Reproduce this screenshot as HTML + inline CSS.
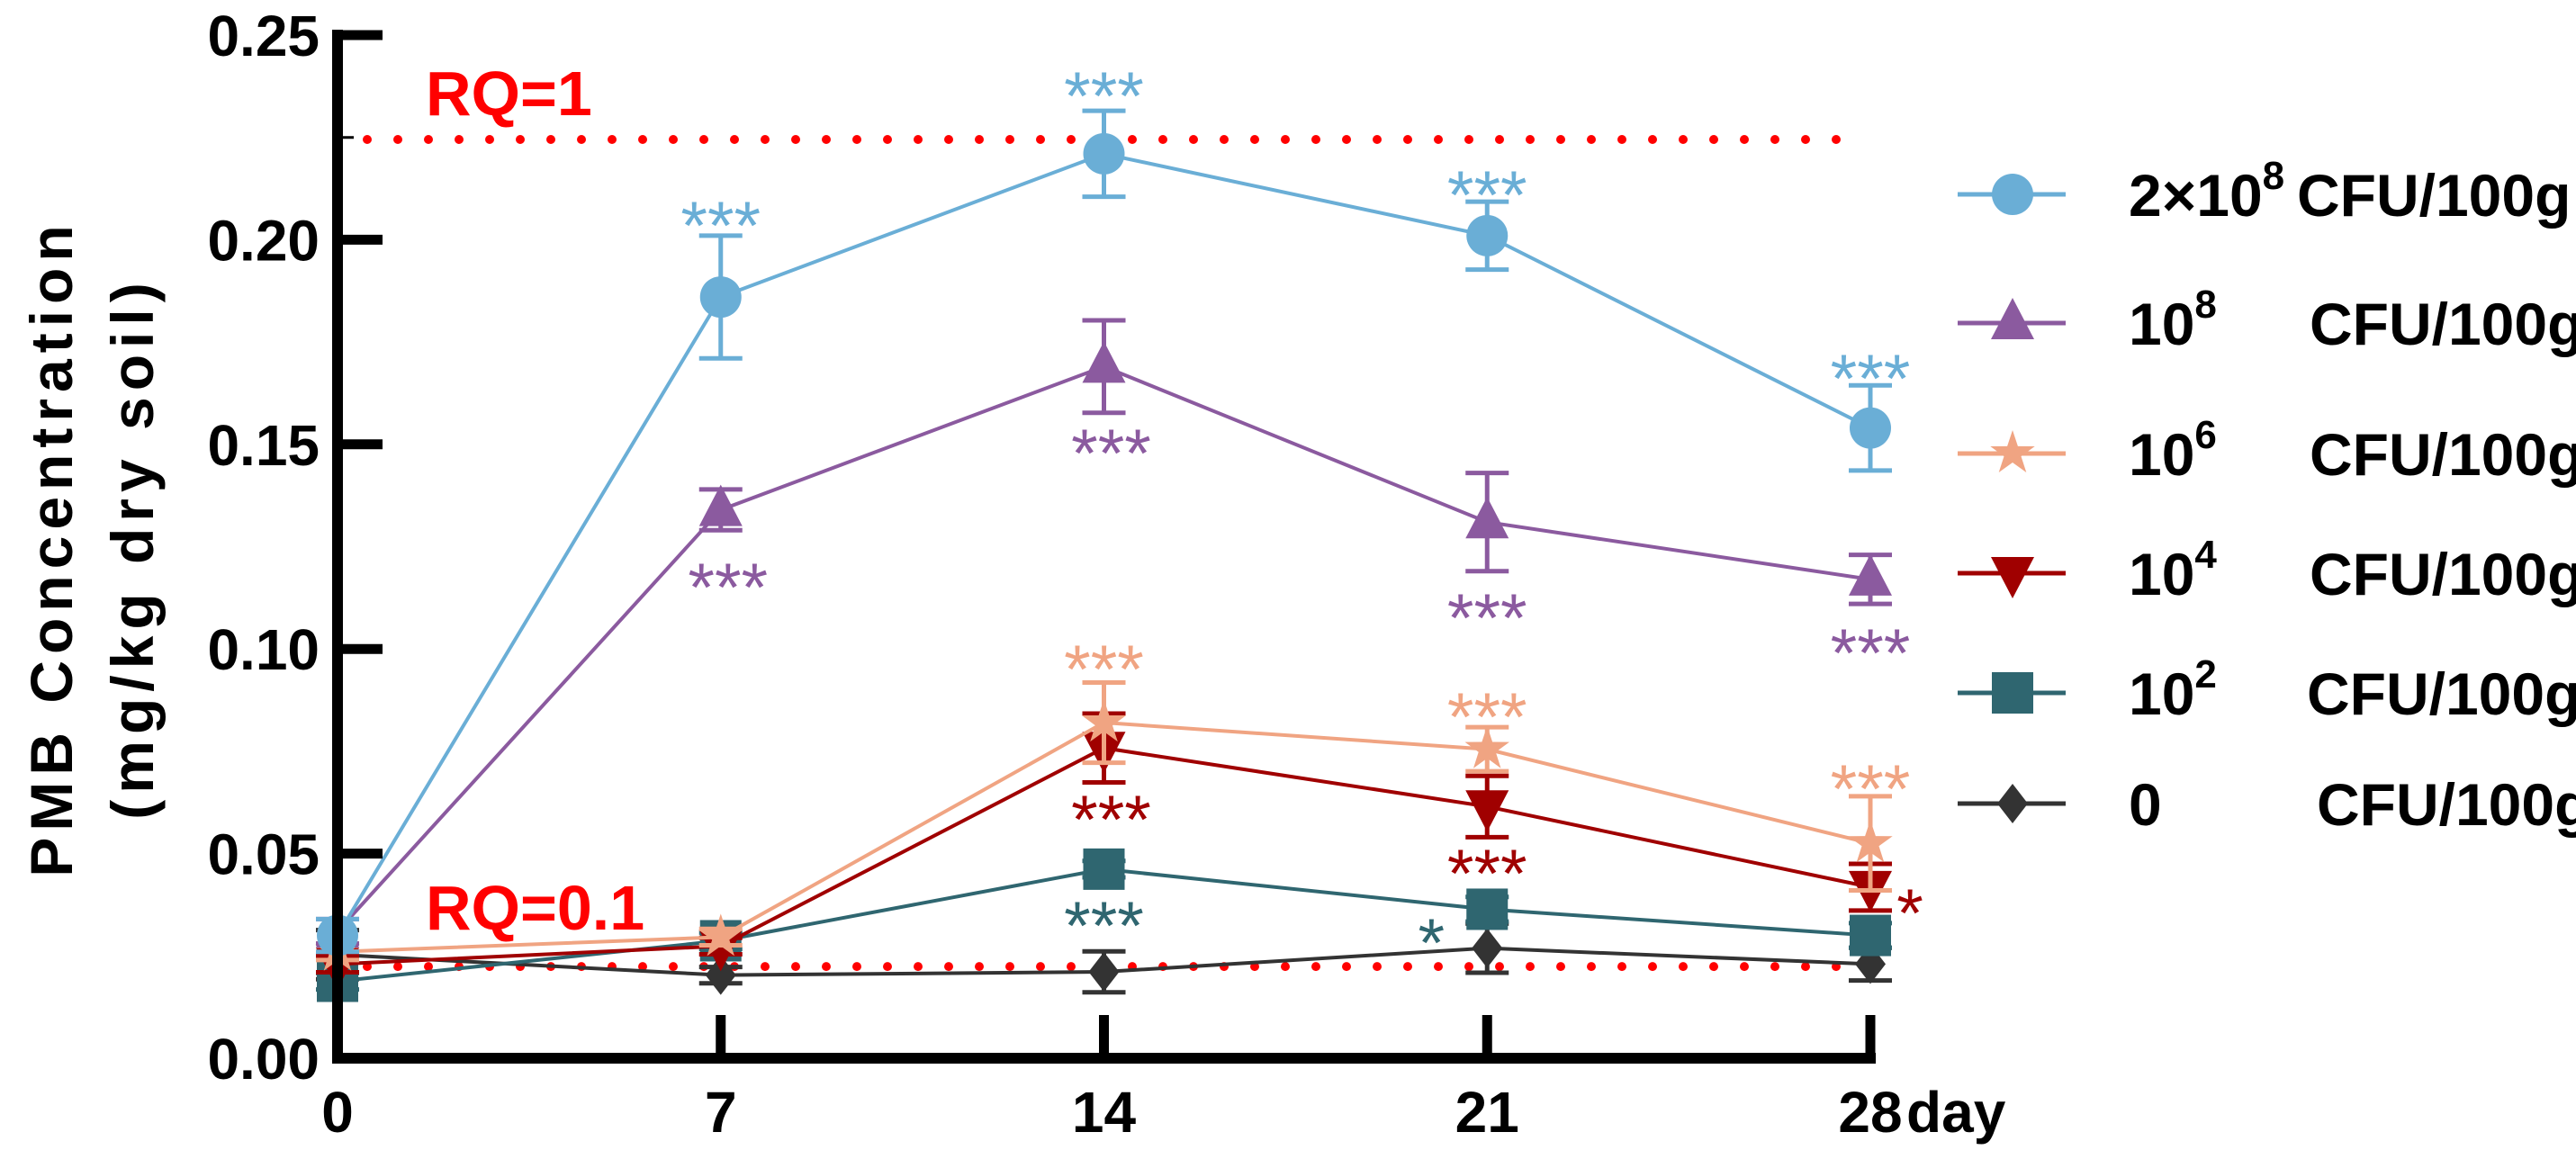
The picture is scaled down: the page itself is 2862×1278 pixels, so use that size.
<!DOCTYPE html>
<html><head><meta charset="utf-8"><style>
html,body{margin:0;padding:0;background:#fff;}
svg{display:block;font-family:"Liberation Sans",Arial,sans-serif;}
</style></head><body>
<svg id="chart" width="2862" height="1278" viewBox="0 0 2862 1278" xmlns="http://www.w3.org/2000/svg"></svg>
<script>
const days = [0, 7, 14, 21, 28];
const xTickLabels = ["0", "7", "14", "21", "28"];
const yTicks = [0, 0.05, 0.10, 0.15, 0.20, 0.25];
const yTickLabels = ["0.00", "0.05", "0.10", "0.15", "0.20", "0.25"];
const seriesNames = ["2e8", "1e8", "1e6", "1e4", "1e2", "0"];
const meanBlue = [0.030, 0.186, 0.221, 0.201, 0.154];
const errBlue = [0.004, 0.015, 0.0105, 0.0083, 0.0104];
const meanPurple = [0.031, 0.134, 0.169, 0.131, 0.117];
const errPurple = [0.003, 0.005, 0.0113, 0.012, 0.006];
const meanPeach = [0.026, 0.0296, 0.082, 0.0755, 0.0525];
const errPeach = [0.002, 0.002, 0.0098, 0.0054, 0.0115];
const meanRed = [0.023, 0.0274, 0.0758, 0.0615, 0.0418];
const errRed = [0.002, 0.002, 0.0084, 0.0075, 0.0057];
const meanTeal = [0.0188, 0.0287, 0.0462, 0.0364, 0.030];
const errTeal = [0.002, 0.002, 0.002, 0.003, 0.003];
const meanBlack = [0.0253, 0.0203, 0.0211, 0.0269, 0.023];
const errBlack = [0.006, 0.002, 0.005, 0.006, 0.004];
const rqValues = [0.2245, 0.0224];
const rqLabels = ["RQ=1", "RQ=0.1"];
// significance annotations: series index, day, label, value at label centre
const sigSeries = [0,0,0,0, 1,1,1,1, 2,2,2, 3,3,3, 4,4];
const sigDay = [7,14,21,28, 7,14,21,28, 14,21,28, 14,21,28, 14,21];
const sigText = ["***","***","***","***", "***","***","***","***", "***","***","***", "***","***","*", "***","*"];
const sigValue = [0.2076,0.2392,0.2150,0.1702, 0.1192,0.1519,0.1117,0.1031, 0.0992,0.0875,0.0699, 0.0624,0.0493,0.0396, 0.0365,0.0323];
const sigDx = [0,0,0,0, 8,8,0,0, 0,0,0, 8,0,44, 0,-62];

const colors = ["#6aaed6","#8b5a9f","#f0a482","#a00000","#2f6670","#333333"];
const means = [meanBlue, meanPurple, meanPeach, meanRed, meanTeal, meanBlack];
const errs = [errBlue, errPurple, errPeach, errRed, errTeal, errBlack];
const shapes = ["circle","tri","star","tridown","square","diamond"];

const X0 = 375, XPER = (2078-375)/28, Y0 = 1176, YPER = (1176-39)/0.25;
const xs = d => X0 + d*XPER;
const ys = v => Y0 - v*YPER;
const NS = "http://www.w3.org/2000/svg";
const svg = document.getElementById('chart');
function mk(tag, attrs, parent){ const e=document.createElementNS(NS,tag); for(const k in attrs) e.setAttribute(k,attrs[k]); (parent||svg).appendChild(e); return e; }

function marker(shape, cx, cy, col, g, s){
  s = s||1;
  if(shape==="circle") return mk('circle',{cx,cy,r:23*s,fill:col},g);
  if(shape==="square") return mk('rect',{x:cx-23*s,y:cy-23*s,width:46*s,height:46*s,fill:col},g);
  if(shape==="tri") return mk('polygon',{points:`${cx},${cy-28*s} ${cx-24*s},${cy+18*s} ${cx+24*s},${cy+18*s}`,fill:col},g);
  if(shape==="tridown") return mk('polygon',{points:`${cx},${cy+28*s} ${cx-24*s},${cy-18*s} ${cx+24*s},${cy-18*s}`,fill:col},g);
  if(shape==="diamond") return mk('polygon',{points:`${cx},${cy-22*s} ${cx+17*s},${cy} ${cx},${cy+22*s} ${cx-17*s},${cy}`,fill:col},g);
  if(shape==="star"){ let p=[]; for(let i=0;i<10;i++){const r=i%2?10*s:26*s; const a=-Math.PI/2+i*Math.PI/5; p.push((cx+r*Math.cos(a)).toFixed(1)+','+(cy+r*Math.sin(a)).toFixed(1));} return mk('polygon',{points:p.join(' '),fill:col},g);}
}

// RQ lines
rqValues.forEach((v,i)=>{
  const l = mk('line',{x1:408,x2:2050,y1:ys(v),y2:ys(v),stroke:'#ff0000','stroke-width':10,'stroke-linecap':'round','stroke-dasharray':'0 34'});
  
  
  const t = mk('text',{x:473,y:ys(v)-(i===0?51:65)+24,'font-size':70,'font-weight':'bold',fill:'#ff0000'});
  t.textContent = rqLabels[i];
  
  
});

// series (draw back to front)
for(let s=5;s>=0;s--){
  const g = mk('g',{});
  
  
  const col = colors[s];
  mk('polyline',{points:days.map((d,i)=>xs(d)+','+ys(means[s][i])).join(' '),fill:'none',stroke:col,'stroke-width':4},g);
  days.forEach((d,i)=>{
    const x=xs(d), hi=ys(means[s][i]+errs[s][i]), lo=ys(means[s][i]-errs[s][i]);
    const eb = mk('path',{d:`M${x},${hi}V${lo}M${x-24},${hi}H${x+24}M${x-24},${lo}H${x+24}`,stroke:col,'stroke-width':5,fill:'none'},g);
    
    
    const m = marker(shapes[s], x, ys(means[s][i]), col, g);
    
    
  });
}

// significance stars
sigText.forEach((t,i)=>{
  const e = mk('text',{x:xs(sigDay[i])+sigDx[i],y:ys(sigValue[i])+45,'font-size':76,'text-anchor':'middle',fill:colors[sigSeries[i]]});
  e.textContent = t;
  
  
});

// axes
const ax = mk('path',{d:`M${X0},33V${Y0}H${xs(28)+6}`,stroke:'#000','stroke-width':12,fill:'none','stroke-linejoin':'miter'});


yTicks.forEach((v,i)=>{
  const tk = mk('line',{x1:X0,x2:X0+50,y1:ys(v),y2:ys(v),stroke:'#000','stroke-width':11});
  
  
  const t = mk('text',{x:355,y:ys(v)+23,'font-size':64,'font-weight':'bold','text-anchor':'end'});
  t.textContent = yTickLabels[i];
  
  
});
mk('line',{x1:X0,x2:X0+18,y1:ys(0.225),y2:ys(0.225),stroke:'#000','stroke-width':3});
days.forEach((d,i)=>{
  if(i>0){ const tk = mk('line',{x1:xs(d),x2:xs(d),y1:Y0,y2:Y0-48,stroke:'#000','stroke-width':11});
    
     }
  const t = mk('text',{x:xs(d),y:1258,'font-size':64,'font-weight':'bold','text-anchor':'middle'});
  t.textContent = xTickLabels[i];
  
  
});
const dl = mk('text',{x:2118,y:1258,'font-size':64,'font-weight':'bold'});
dl.textContent='day';



// y axis title
const yt = mk('text',{transform:'translate(80,609) rotate(-90)','font-size':66,'font-weight':'bold','text-anchor':'middle','letter-spacing':'7'});
yt.textContent='PMB Concentration';


const yt2 = mk('text',{transform:'translate(170,609) rotate(-90)','font-size':66,'font-weight':'bold','text-anchor':'middle','letter-spacing':'7'});
yt2.textContent='(mg/kg dry soil)';



// legend
const legY = [216,359,504,637,770,893];
const legPrefix = ["2×10","10","10","10","10","0"];
const legSup = ["8","8","6","4","2",""];
const legCfuX = [2552,2566,2566,2566,2563,2574];
legY.forEach((y,i)=>{
  const g = mk('g',{});
  
  
  mk('line',{x1:2175,x2:2295,y1:y,y2:y,stroke:colors[i],'stroke-width':5},g);
  marker(shapes[i],2236,y,colors[i],g);
  const t = mk('text',{x:2365,y:y+24,'font-size':66,'font-weight':'bold'},g);
  t.textContent = legPrefix[i];
  if(legSup[i]){ const sp = mk('tspan',{dy:-30,'font-size':44},t); sp.textContent=legSup[i]; }
  const c = mk('text',{x:legCfuX[i],y:y+24,'font-size':66,'font-weight':'bold'},g);
  c.textContent='CFU/100g';
});
</script>
</body></html>
